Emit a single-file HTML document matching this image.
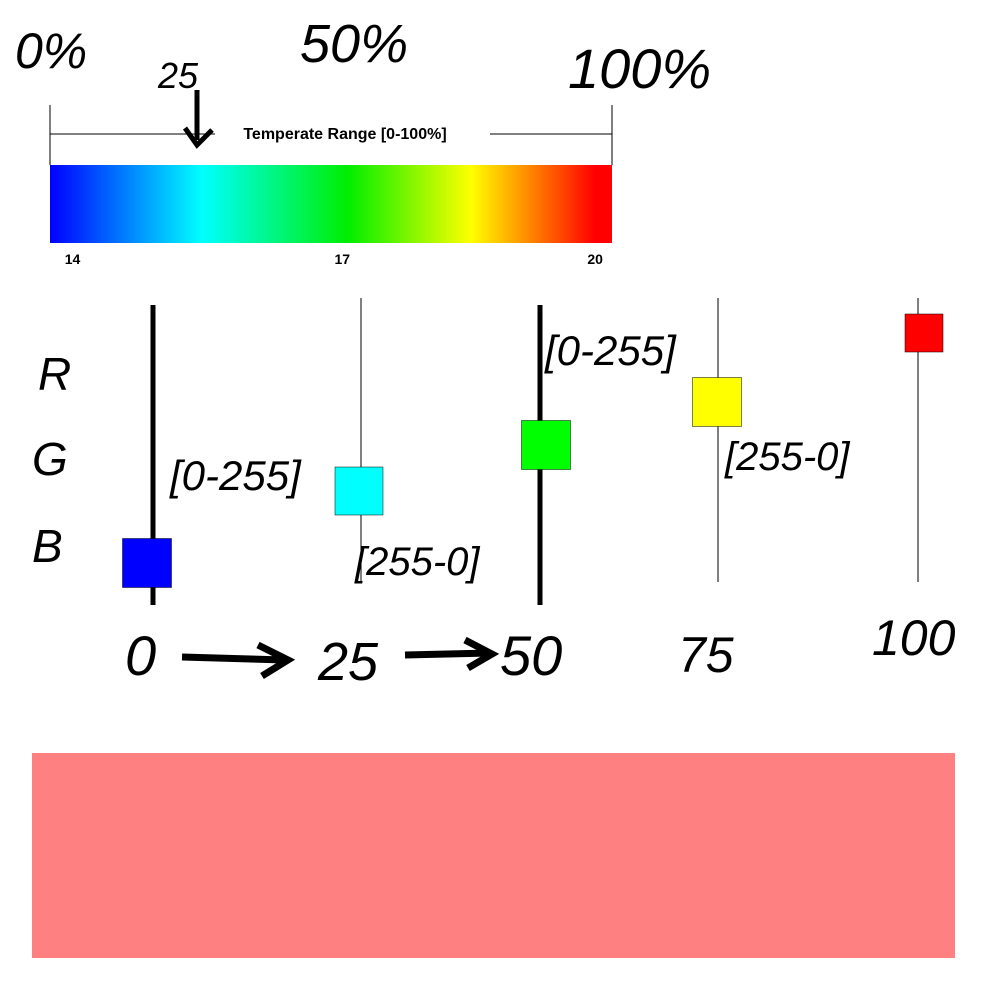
<!DOCTYPE html>
<html><head><meta charset="utf-8"><style>
html,body{margin:0;padding:0;background:#fff}
svg{display:block}
.hand{font-family:"Liberation Sans",sans-serif;fill:#000;font-style:italic}
</style></head><body>
<svg id="chart" width="1008" height="1008" viewBox="0 0 1008 1008">
<defs>
<linearGradient id="grad" x1="0" x2="1" y1="0" y2="0"></linearGradient>
</defs>
<g id="legend">
<line x1="50" y1="105" x2="50" y2="165" stroke="#000" stroke-width="1"/>
<line x1="612" y1="105" x2="612" y2="165" stroke="#000" stroke-width="1"/>
<line x1="50" y1="134" x2="215" y2="134" stroke="#000" stroke-width="1"/>
<line x1="490" y1="134" x2="612" y2="134" stroke="#000" stroke-width="1"/>
<text x="345" y="139" text-anchor="middle" font-family="Liberation Sans,sans-serif" font-size="16" font-weight="bold">Temperate Range [0-100%]</text>
<rect x="50" y="165" width="562" height="78" fill="url(#grad)"/>
<g id="ticks"></g>
</g>
<g id="marks"></g>
<g>
<text class="hand" x="15" y="68" font-size="50">0%</text>
<text class="hand" x="158" y="88" font-size="36">25</text>
<path d="M197 90 L197 140 M185 128 L197 145 L212 130" stroke="#000" stroke-width="5" fill="none"/>
<text class="hand" x="300" y="62" font-size="54">50%</text>
<text class="hand" x="568" y="88" font-size="56">100%</text>
<text class="hand" x="38" y="390" font-size="46">R</text>
<text class="hand" x="32" y="475" font-size="46">G</text>
<text class="hand" x="32" y="562" font-size="46">B</text>
<text class="hand" x="170" y="490" font-size="42">[0-255]</text>
<text class="hand" x="355" y="575" font-size="40">[255-0]</text>
<text class="hand" x="545" y="365" font-size="42">[0-255]</text>
<text class="hand" x="725" y="470" font-size="40">[255-0]</text>
<text class="hand" x="125" y="675" font-size="56">0</text>
<path d="M182 657 L285 660 M258 645 L288 660 L262 676" stroke="#000" stroke-width="7" fill="none"/>
<text class="hand" x="318" y="680" font-size="54">25</text>
<path d="M405 655 L490 653 M465 640 L492 654 L468 668" stroke="#000" stroke-width="7" fill="none"/>
<text class="hand" x="500" y="675" font-size="56">50</text>
<text class="hand" x="678" y="672" font-size="50">75</text>
<text class="hand" x="872" y="655" font-size="50">100</text>
</g>
<rect x="32" y="753" width="923" height="205" fill="#ff8080"/>
</svg>
<script>
const stopPcts=[0,27,53,75,97];
const stopColors=["#0000ff","#00ffff","#00ee00","#ffff00","#ff0000"];
const tickLabels=["14","17","20"];
const tickPcts=[4,52,97];
const markPcts=[0,25,50,75,100];
const markColors=["#0000ff","#00ffff","#00ff00","#ffff00","#ff0000"];
const markLevels=[563,491,445,402,333];
const NS="http://www.w3.org/2000/svg";
const g=document.getElementById('grad');
stopPcts.forEach((p,i)=>{const s=document.createElementNS(NS,'stop');s.setAttribute('offset',p+'%');s.setAttribute('stop-color',stopColors[i]);g.appendChild(s);});
const bx=p=>50+562*p/100;
const tk=document.getElementById('ticks');
tickLabels.forEach((t,i)=>{const e=document.createElementNS(NS,'text');


e.setAttribute('x',bx(tickPcts[i]));e.setAttribute('y',264);e.setAttribute('text-anchor','middle');
e.setAttribute('font-family','Liberation Sans,sans-serif');e.setAttribute('font-size','14');e.setAttribute('font-weight','bold');e.textContent=t;tk.appendChild(e);});
// layout (not data): guide line x for each category, and square offsets
const lineX=[153,361,540,718,918];
const sqDx=[-6,-2,6,-1,6];
const sizes=[49,48,49,49,38];
const mk=document.getElementById('marks');
markPcts.forEach((p,i)=>{
const l=document.createElementNS(NS,'line');


const x=lineX[i];const thick=(i==0||i==2);
l.setAttribute('x1',x);l.setAttribute('x2',x);l.setAttribute('y1',thick?305:298);l.setAttribute('y2',thick?605:582);
l.setAttribute('stroke','#000');l.setAttribute('stroke-width',thick?5:1);mk.appendChild(l);
const r=document.createElementNS(NS,'rect');


const s=sizes[i];const cy=markLevels[i];
r.setAttribute('x',x+sqDx[i]-s/2);r.setAttribute('y',cy-s/2);r.setAttribute('width',s);r.setAttribute('height',s);
r.setAttribute('fill',markColors[i]);r.setAttribute('stroke','#000');r.setAttribute('stroke-width','0.5');mk.appendChild(r);
});
</script>
</body></html>
